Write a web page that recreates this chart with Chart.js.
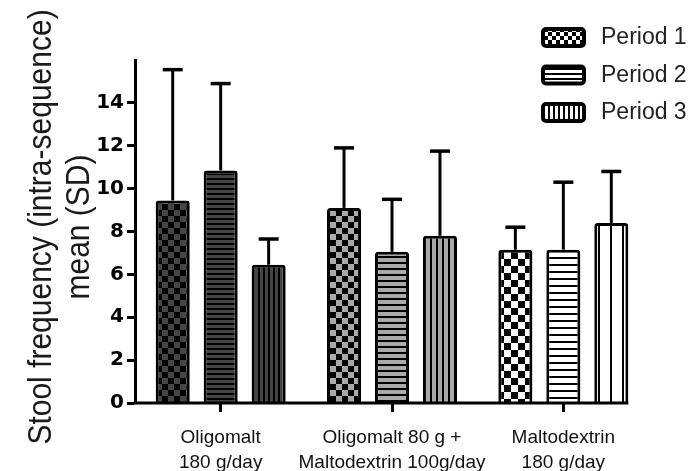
<!DOCTYPE html>
<html>
<head>
<meta charset="utf-8">
<script src="https://cdn.jsdelivr.net/npm/chart.js@4.4.1/dist/chart.umd.min.js"></script>
<style>
  html, body { margin: 0; padding: 0; background: #fff; }
  canvas { display: block; }
</style>
</head>
<body>
<canvas id="chart" width="696" height="471"></canvas>
<script>
/* Stool frequency per period — grouped bars with upper SD whiskers */

const groups = [
  ['Oligomalt', '180 g/day'],
  ['Oligomalt 80 g +', 'Maltodextrin 100g/day'],
  ['Maltodextrin', '180 g/day']
];
const periods = ['Period 1', 'Period 2', 'Period 3'];

// mean per group, one array per period
const period1Mean = [9.45, 9.1, 7.15];
const period2Mean = [10.85, 7.05, 7.15];
const period3Mean = [6.45, 7.8, 8.4];

// SD (only the upper whisker is visible)
const period1SD = [6.1, 2.8, 1.05];
const period2SD = [4.05, 2.45, 3.15];
const period3SD = [1.2, 3.95, 2.4];

const yTicks = [0, 2, 4, 6, 8, 10, 12, 14];
const yMax = 16;
const yTitle = ['Stool frequency (intra-sequence)', 'mean (SD)'];

const canvas = document.getElementById('chart');
const ctx = canvas.getContext('2d');

// little tiles used as bar fills
function pattern(kind, tone, size) {
  const c = document.createElement('canvas');
  const g = c.getContext('2d');
  if (kind === 'check') {
    c.width = c.height = size * 2;
    g.fillStyle = '#000'; g.fillRect(0, 0, size * 2, size * 2);
    g.fillStyle = tone;
    g.fillRect(0, 0, size, size);
    g.fillRect(size, size, size, size);
  } else if (kind === 'h') {
    c.width = 4; c.height = size;
    g.fillStyle = '#000'; g.fillRect(0, 0, 4, size);
    g.fillStyle = tone; g.fillRect(0, 0, 4, size - 2);
  } else {
    c.width = size; c.height = 4;
    g.fillStyle = '#000'; g.fillRect(0, 0, size, 4);
    g.fillStyle = tone; g.fillRect(0, 0, size - 2, 4);
  }
  return ctx.createPattern(c, 'repeat');
}

// one tone per group: dark, grey, white
const checkFills  = [pattern('check', '#454545', 6), pattern('check', '#a9a9a9', 6), pattern('check', '#fff', 7)];
const hFills      = [pattern('h', '#454545', 5), pattern('h', '#a9a9a9', 6), pattern('h', '#fff', 7)];
const vFills      = [pattern('v', '#454545', 5), pattern('v', '#a9a9a9', 6), pattern('v', '#fff', 12)];
const legendFills = [pattern('check', '#fff', 4), pattern('h', '#fff', 5), pattern('v', '#fff', 5)];

const sdWhiskers = {
  id: 'sdWhiskers',
  afterDatasetsDraw(chart) {
    const { ctx, scales: { y } } = chart;
    ctx.save();
    ctx.strokeStyle = '#000';
    chart.data.datasets.forEach((ds, di) => {
      chart.getDatasetMeta(di).data.forEach((bar, i) => {
        const top = y.getPixelForValue(ds.data[i] + ds.sd[i]);
        ctx.lineWidth = 3;
        ctx.beginPath();
        ctx.moveTo(bar.x, bar.y);
        ctx.lineTo(bar.x, top);
        ctx.stroke();
        ctx.lineWidth = 3.5;
        ctx.beginPath();
        ctx.moveTo(bar.x - 10, top);
        ctx.lineTo(bar.x + 10, top);
        ctx.stroke();
      });
    });
    // x axis line stops at the last bar like the original
    const metaLast = chart.getDatasetMeta(chart.data.datasets.length - 1);
    const lastBar = metaLast.data[metaLast.data.length - 1];
    const a = chart.chartArea;
    ctx.lineWidth = 3;
    ctx.beginPath();
    ctx.moveTo(a.left - 1.5, a.bottom);
    ctx.lineTo(lastBar.x + lastBar.width / 2, a.bottom);
    ctx.stroke();
    ctx.restore();
  }
};

const periodLegend = {
  id: 'periodLegend',
  afterDraw(chart) {
    const ctx = chart.ctx;
    chart.data.datasets.forEach((ds, i) => {
      const y = 37 + i * 37.5;
      ctx.save();
      ctx.beginPath();
      ctx.roundRect(543, y - 8, 41, 17, 3);
      ctx.fillStyle = legendFills[i];
      ctx.fill();
      ctx.lineWidth = 4;
      ctx.strokeStyle = '#000';
      ctx.stroke();
      ctx.fillStyle = '#222';
      ctx.font = '23px "Liberation Sans", Arial, sans-serif';
      ctx.textBaseline = 'middle';
      ctx.fillText(ds.label, 601, y + 1);
      ctx.restore();
    });
  }
};

const axisTitle = {
  id: 'axisTitle',
  afterDraw(chart) {
    const ctx = chart.ctx;
    [[42, yTitle[0]], [80, yTitle[1]]].forEach(([x, txt]) => {
      ctx.save();
      ctx.translate(x, 227);
      ctx.rotate(-Math.PI / 2);
      ctx.scale(1, 1.12);
      ctx.font = '30px "Liberation Sans", Arial, sans-serif';
      ctx.fillStyle = '#1a1a1a';
      ctx.textAlign = 'center';
      ctx.textBaseline = 'middle';
      ctx.fillText(txt, 0, 0);
      ctx.restore();
    });
  }
};

const barStyle = {
  borderColor: '#000',
  borderWidth: 3,
  borderRadius: 3,
  categoryPercentage: 0.84,
  barPercentage: 0.71
};

new Chart(ctx, {
  type: 'bar',
  data: {
    labels: groups,
    datasets: [
      { label: periods[0], data: period1Mean, sd: period1SD, backgroundColor: checkFills, ...barStyle },
      { label: periods[1], data: period2Mean, sd: period2SD, backgroundColor: hFills, ...barStyle },
      { label: periods[2], data: period3Mean, sd: period3SD, backgroundColor: vFills, ...barStyle }
    ]
  },
  options: {
    responsive: false,
    animation: false,
    devicePixelRatio: 1,
    layout: { padding: { left: 0, top: 60, right: 47, bottom: 0 } },
    plugins: {
      legend: { display: false },
      tooltip: { enabled: false }
    },
    scales: {
      x: {
        afterFit: s => { s.height = 68; },
        border: { display: false },
        grid: { display: true, offset: false, drawOnChartArea: false, tickLength: 9, tickWidth: 3, tickColor: '#000', color: '#000' },
        ticks: {
          color: '#111', padding: 13, maxRotation: 0, autoSkip: false,
          font: { family: "'Liberation Sans', Arial, sans-serif", size: 19, lineHeight: 1.32 }
        }
      },
      y: {
        min: 0,
        max: yMax,
        afterBuildTicks: s => { s.ticks = yTicks.map(v => ({ value: v })); },
        afterFit: s => { s.width = 135; },
        border: { display: true, color: '#000', width: 3 },
        grid: { display: true, drawOnChartArea: false, tickLength: 8, tickWidth: 3, tickColor: '#000', color: '#000' },
        ticks: {
          color: '#000', padding: 3,
          font: { family: "'DejaVu Sans', sans-serif", weight: 'bold', size: 20 }
        }
      }
    }
  },
  plugins: [sdWhiskers, periodLegend, axisTitle]
});
</script>
</body>
</html>
